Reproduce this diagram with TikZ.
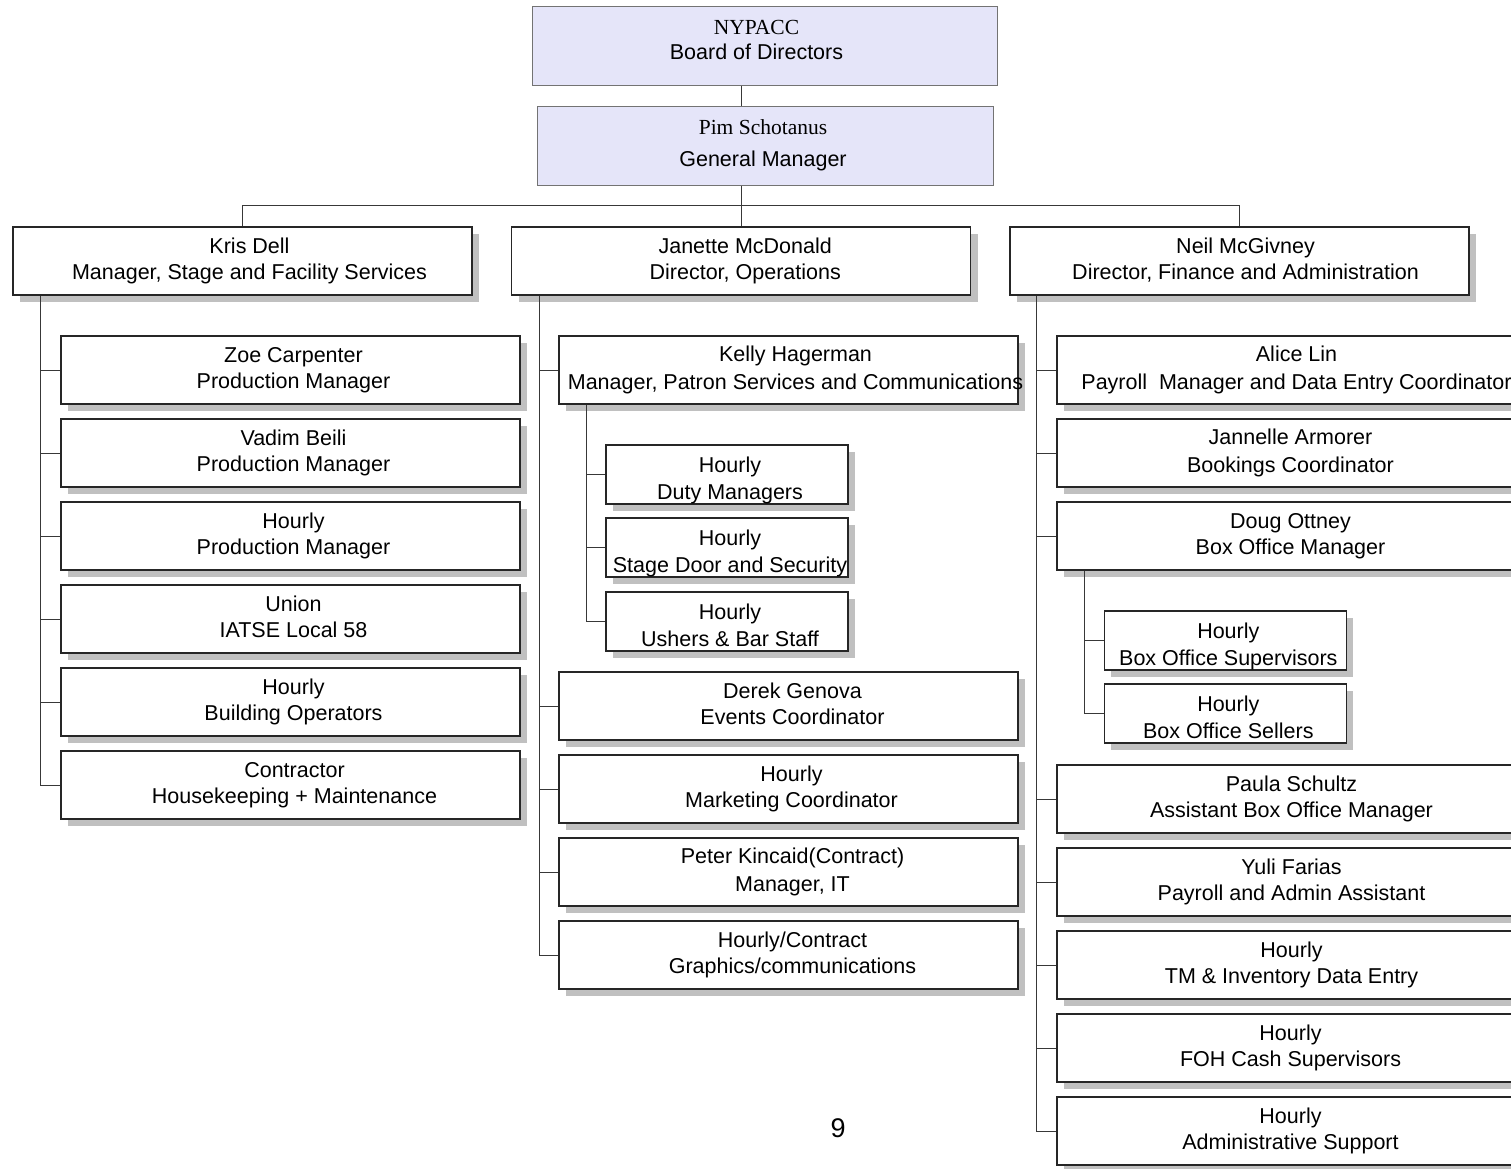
\documentclass[tikz,border=0pt]{standalone}
\usepackage{fontspec}
\setmainfont{Liberation Sans}
\newfontfamily\tms{Liberation Serif}
\usetikzlibrary{shadows}
\definecolor{lav}{RGB}{229,229,249}
\definecolor{shd}{RGB}{192,192,192}
% two-line text block, shifted right by #1, taking no width of its own
\newcommand\tlines[2][0pt]{\makebox[0pt]{\kern#1\kern#1\begin{tabular}[t]{@{}c@{}}#2\end{tabular}}}
\tikzset{
  ln/.style={draw=black!78, line width=1pt},
  orgbox/.style={draw=black!85, line width=1.3pt, fill=white, minimum width=459pt, minimum height=68pt,
    inner sep=0pt, font=\fontsize{21.5}{26.5}\selectfont,
    drop shadow={shadow xshift=7pt, shadow yshift=-7pt, fill=shd, opacity=1}},
  wide/.style={font=\fontsize{21.5}{27.5}\selectfont},
  subbox/.style={orgbox, minimum width=242pt, minimum height=59pt, font=\fontsize{21.5}{27}\selectfont, text depth=22pt},
  topbox/.style={draw=black!55, line width=1pt, fill=lav, minimum height=79pt, inner sep=0pt,
    font=\fontsize{21.5}{25}\selectfont}
}
\begin{document}
\begin{tikzpicture}[x=1pt,y=-1pt]
\useasboundingbox (0,0) rectangle (1511,1168);
\clip (0,0) rectangle (1511,1168);
% top
\node[topbox, minimum width=465pt, text depth=40pt] (board) at (764.5,45.5) {\tlines[-8pt]{{\tms NYPACC}\\Board of Directors}};
\node[topbox, minimum width=456pt, font=\fontsize{21.5}{26.5}\selectfont] (gm) at (765,145.5) {\tlines[-2pt]{{\tms Pim Schotanus}\\[5.5pt]General Manager}};
% level 2
\node[orgbox] (kris) at (242.5,261) {\tlines[7pt]{Kris Dell\\Manager, Stage and Facility Services}};
\node[orgbox] (jan) at (741.2,261) {\tlines[4pt]{Janette McDonald\\Director, Operations}};
\node[orgbox] (neil) at (1239.5,261) {\tlines[6pt]{Neil McGivney\\Director, Finance and Administration}};
% Kris column
\node[orgbox] (k1) at (290.5,370) {\tlines[3pt]{Zoe Carpenter\\Production Manager}};
\node[orgbox] (k2) at (290.5,453) {\tlines[3pt]{Vadim Beili\\Production Manager}};
\node[orgbox] (k3) at (290.5,536) {\tlines[3pt]{Hourly\\Production Manager}};
\node[orgbox] (k4) at (290.5,619) {\tlines[3pt]{Union\\IATSE Local 58}};
\node[orgbox] (k5) at (290.5,702) {\tlines[3pt]{Hourly\\Building Operators}};
\node[orgbox] (k6) at (290.5,785) {\tlines[4pt]{Contractor\\Housekeeping + Maintenance}};
% Janette column
\node[orgbox, wide] (j1) at (788.5,370) {\tlines[7pt]{Kelly Hagerman\\Manager, Patron Services and Communications}};
\node[orgbox] (j2) at (788.5,706) {\tlines[4pt]{Derek Genova\\Events Coordinator}};
\node[orgbox] (j3) at (788.5,789) {\tlines[3pt]{Hourly\\Marketing Coordinator}};
\node[orgbox, wide] (j4) at (788.5,872) {\tlines[4pt]{Peter Kincaid(Contract)\\Manager, IT}};
\node[orgbox] (j5) at (788.5,955) {\tlines[4pt]{Hourly/Contract\\Graphics/communications}};
% Kelly subs
\node[subbox] (s1) at (727,474.5) {\tlines[3pt]{Hourly\\Duty Managers}};
\node[subbox] (s2) at (727,547.5) {\tlines[3pt]{Hourly\\Stage Door and Security}};
\node[subbox] (s3) at (727,621.5) {\tlines[3pt]{Hourly\\Ushers \& Bar Staff}};
% Neil column
\node[orgbox, wide] (n1) at (1286.5,370) {\tlines[10pt]{Alice Lin\\Payroll~ Manager and Data Entry Coordinator}};
\node[orgbox, wide] (n2) at (1286.5,453) {\tlines[4pt]{Jannelle Armorer\\Bookings Coordinator}};
\node[orgbox] (n3) at (1286.5,536) {\tlines[4pt]{Doug Ottney\\Box Office Manager}};
\node[orgbox] (n4) at (1286.5,799) {\tlines[5pt]{Paula Schultz\\Assistant Box Office Manager}};
\node[orgbox] (n5) at (1286.5,882) {\tlines[5pt]{Yuli Farias\\Payroll and Admin Assistant}};
\node[orgbox] (n6) at (1286.5,965) {\tlines[5pt]{Hourly\\TM \& Inventory Data Entry}};
\node[orgbox] (n7) at (1286.5,1048) {\tlines[4pt]{Hourly\\FOH Cash Supervisors}};
\node[orgbox] (n8) at (1286.5,1131) {\tlines[4pt]{Hourly\\Administrative Support}};
% Doug subs
\node[subbox] (d1) at (1225.3,640.5) {\tlines[3pt]{Hourly\\Box Office Supervisors}};
\node[subbox] (d2) at (1225.3,713.5) {\tlines[3pt]{Hourly\\Box Office Sellers}};
% page number
\node[font=\fontsize{27}{30}\selectfont] (pg) at (838,1128) {9};
% connectors
\draw[ln] (board.south -| jan.north) -- (gm.north -| jan.north);
\draw[ln] (gm.south -| jan.north) -- (jan.north);
\draw[ln] (kris.north) -- ++(0,-21) -| (neil.north);
\foreach \c in {k1,k2,k3,k4,k5,k6} \draw[ln] ([xshift=28pt]kris.south west) |- (\c.west);
\foreach \c in {j1,j2,j3,j4,j5} \draw[ln] ([xshift=28pt]jan.south west) |- (\c.west);
\foreach \c in {s1,s2,s3} \draw[ln] ([xshift=28pt]j1.south west) |- (\c.west);
\foreach \c in {n1,n2,n3,n4,n5,n6,n7,n8} \draw[ln] ([xshift=27pt]neil.south west) |- (\c.west);
\foreach \c in {d1,d2} \draw[ln] ([xshift=28pt]n3.south west) |- (\c.west);
\end{tikzpicture}
\end{document}
